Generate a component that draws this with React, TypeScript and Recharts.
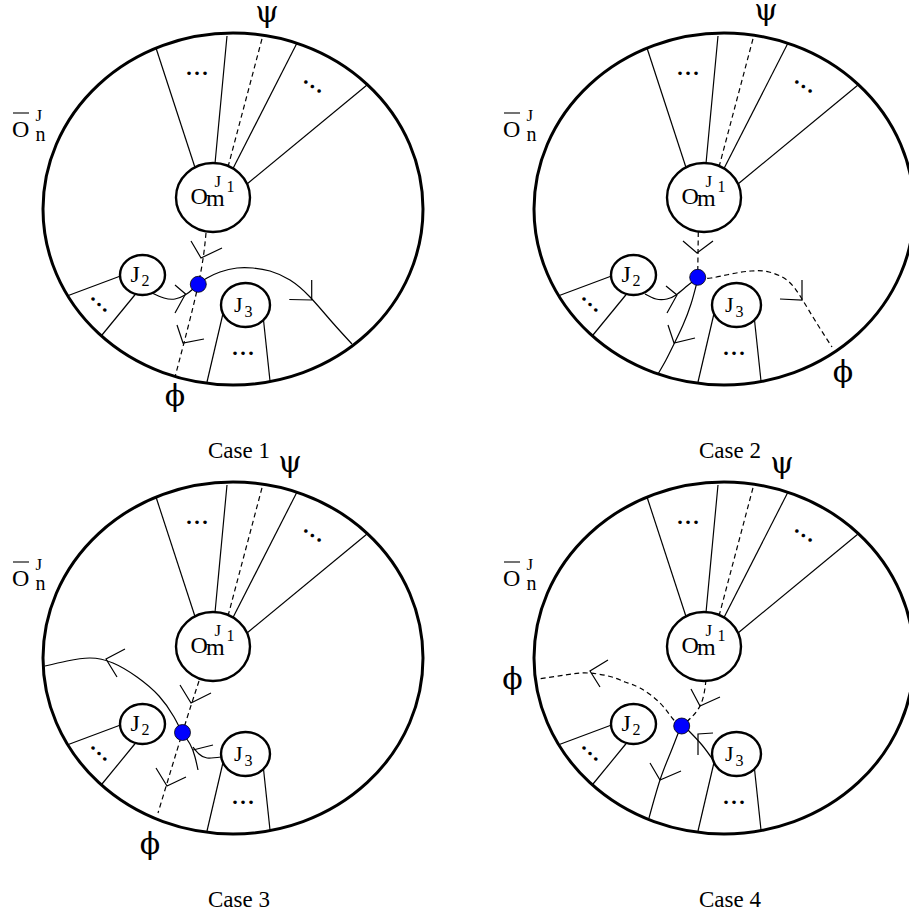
import {
  ComposedChart,
  Line,
  ReferenceArea,
  ReferenceDot,
  ReferenceLine,
  Scatter,
  XAxis,
  YAxis,
} from "recharts";

// every panel uses its own local units: 0..455 across, -20..466 down
const W = 455;
const H = 466;
const PAD = 20; // head room so the top labels are not clipped by the svg
const FONT = '"Liberation Serif", "DejaVu Serif", serif';
const GREEK_FONT = '"DejaVu Serif", "Liberation Serif", serif';

type Pt = { x: number; y: number };
type Box = { x1: number; x2: number; y1: number; y2: number };

// ---- geometry shared by all four cases ----
const outerRing: Box = { x1: 43, x2: 423, y1: 33, y2: 385 };

const nodes: Box[] = [
  { x1: 176, x2: 250, y1: 163, y2: 232 }, // O_m^{J1}
  { x1: 120, x2: 165, y1: 255, y2: 295 }, // J2
  { x1: 221, x2: 270, y1: 283, y2: 327 }, // J3
];

const spokes: [Pt, Pt][] = [
  [{ x: 195, y: 167.5 }, { x: 156, y: 48 }],
  [{ x: 215, y: 163.5 }, { x: 227, y: 36 }],
  [{ x: 233, y: 168.5 }, { x: 297, y: 43 }],
  [{ x: 247, y: 184 }, { x: 367, y: 85 }],
  [{ x: 120.5, y: 276 }, { x: 67, y: 296 }],
  [{ x: 136, y: 293.5 }, { x: 102, y: 335 }],
  [{ x: 223, y: 313.5 }, { x: 207, y: 382 }],
  [{ x: 263.5, y: 320 }, { x: 270, y: 381 }],
];

const psiLine: [Pt, Pt] = [{ x: 228, y: 167 }, { x: 263, y: 35 }];
const overbar: [Pt, Pt] = [{ x: 13, y: 113 }, { x: 29, y: 113 }];

const ellipsisMarks = [
  { x: 197, y: 73.5, angle: 0 },
  { x: 312.5, y: 86.5, angle: 34 },
  { x: 99, y: 304.5, angle: 43 },
  { x: 243, y: 353, angle: 0 },
];

// node names; the anchor is where the base letter starts on its baseline
const nodeNames = [
  { x: 12, y: 136.5, name: "outer" },
  { x: 190.5, y: 203.5, name: "J1" },
  { x: 130.5, y: 281.5, name: "J2" },
  { x: 234, y: 311.5, name: "J3" },
];

const titleSpot: Pt = { x: 239, y: 458 };

// ---- case 1 ----
const case1Solid: Pt[][] = [
  [
    { x: 152, y: 293 }, { x: 164, y: 298 }, { x: 175, y: 299 }, { x: 185, y: 295 },
    { x: 193, y: 289 }, { x: 198, y: 284 }, { x: 207, y: 278 }, { x: 220, y: 272 },
    { x: 237, y: 268 }, { x: 253, y: 268 }, { x: 270, y: 271 }, { x: 290, y: 280 },
    { x: 310, y: 297 }, { x: 332, y: 322 }, { x: 352, y: 344 },
  ],
];
const case1Dashed: Pt[][] = [
  [{ x: 206, y: 233 }, { x: 198.3, y: 284.3 }, { x: 175, y: 377 }],
];
const case1Arrows: Pt[][] = [
  [{ x: 191, y: 241 }, { x: 201, y: 258 }, { x: 222, y: 248 }],
  [{ x: 177, y: 325 }, { x: 183, y: 343 }, { x: 204, y: 339 }],
  [{ x: 175, y: 285 }, { x: 185.5, y: 294 }, { x: 175, y: 313 }],
  [{ x: 311.7, y: 280 }, { x: 311.7, y: 300 }, { x: 289.3, y: 299.5 }],
];

// ---- case 2 ----
const case2Solid: Pt[][] = [
  [
    { x: 154, y: 294 }, { x: 165, y: 299 }, { x: 176, y: 299 }, { x: 185, y: 295 },
    { x: 196, y: 286 }, { x: 204, y: 280 },
  ],
  [
    { x: 206, y: 282 }, { x: 200, y: 304 }, { x: 192, y: 325 }, { x: 183, y: 344 },
    { x: 175, y: 360 }, { x: 167, y: 374 },
  ],
];
const case2Dashed: Pt[][] = [
  [{ x: 207.3, y: 232 }, { x: 206.7, y: 277 }],
  [
    { x: 208, y: 278 }, { x: 220, y: 278 }, { x: 240, y: 274 }, { x: 260, y: 271 },
    { x: 278, y: 272 }, { x: 297, y: 281 }, { x: 311, y: 299 }, { x: 325, y: 322 },
    { x: 341, y: 347 },
  ],
];
const case2Arrows: Pt[][] = [
  [{ x: 192, y: 241 }, { x: 206, y: 253 }, { x: 222, y: 241 }],
  [{ x: 175, y: 286 }, { x: 186, y: 295 }, { x: 176, y: 313 }],
  [{ x: 177, y: 325 }, { x: 183, y: 343 }, { x: 204, y: 338 }],
  [{ x: 311, y: 280 }, { x: 311, y: 300 }, { x: 289, y: 299 }],
];

// ---- case 3 ----
const case3Solid: Pt[][] = [
  [
    { x: 45, y: 217 }, { x: 67, y: 212 }, { x: 90, y: 209 }, { x: 113, y: 214 },
    { x: 137, y: 228 }, { x: 159, y: 247 }, { x: 174, y: 268 }, { x: 182, y: 283 },
    { x: 190, y: 295 }, { x: 195, y: 308 }, { x: 198, y: 321 },
  ],
  [{ x: 221, y: 308 }, { x: 207, y: 309 }, { x: 199, y: 305 }, { x: 193, y: 298 }],
];
const case3Dashed: Pt[][] = [
  [{ x: 199, y: 232 }, { x: 182.5, y: 283.5 }, { x: 158, y: 364 }],
];
const case3Arrows: Pt[][] = [
  [{ x: 180, y: 236 }, { x: 191, y: 254 }, { x: 211, y: 244 }],
  [{ x: 156, y: 319 }, { x: 167, y: 337 }, { x: 186, y: 328 }],
  [{ x: 125, y: 200 }, { x: 106, y: 210 }, { x: 117, y: 228 }],
  [{ x: 213, y: 296 }, { x: 193, y: 301 }],
];

// ---- case 4 ----
const case4Solid: Pt[][] = [
  [{ x: 188, y: 282 }, { x: 179, y: 305 }, { x: 169, y: 331 }, { x: 158, y: 369 }],
  [{ x: 197, y: 281 }, { x: 211, y: 296 }, { x: 222, y: 311 }],
];
const case4Dashed: Pt[][] = [
  [{ x: 215, y: 231 }, { x: 209, y: 257 }, { x: 192, y: 276 }],
  [
    { x: 190, y: 276 }, { x: 182, y: 270 }, { x: 169, y: 254 }, { x: 149, y: 239 },
    { x: 134, y: 233 }, { x: 121, y: 228 }, { x: 97, y: 224 }, { x: 74, y: 226 },
    { x: 47, y: 230 },
  ],
];
const case4Arrows: Pt[][] = [
  [{ x: 200, y: 240 }, { x: 209, y: 257 }, { x: 229, y: 248 }],
  [{ x: 117, y: 211 }, { x: 99, y: 222 }, { x: 109, y: 238 }],
  [{ x: 159, y: 314 }, { x: 169, y: 331 }, { x: 190, y: 322 }],
  [{ x: 207, y: 306 }, { x: 207, y: 285 }, { x: 222, y: 284 }],
];

const cases = [
  {
    title: "Case 1",
    vertex: { x: 198.3, y: 284.3 },
    psi: { x: 267, y: 22 },
    phi: { x: 175, y: 406 },
    solid: case1Solid,
    dashed: case1Dashed,
    arrows: case1Arrows,
  },
  {
    title: "Case 2",
    vertex: { x: 206.7, y: 277.3 },
    psi: { x: 275, y: 20 },
    phi: { x: 352, y: 382 },
    solid: case2Solid,
    dashed: case2Dashed,
    arrows: case2Arrows,
  },
  {
    title: "Case 3",
    vertex: { x: 182.5, y: 283.5 },
    psi: { x: 290, y: 23 },
    phi: { x: 150, y: 405 },
    solid: case3Solid,
    dashed: case3Dashed,
    arrows: case3Arrows,
  },
  {
    title: "Case 4",
    vertex: { x: 190.7, y: 277 },
    psi: { x: 291, y: 24 },
    phi: { x: 21.5, y: 240 },
    solid: case4Solid,
    dashed: case4Dashed,
    arrows: case4Arrows,
  },
];

// where each panel's local origin sits on the page
const panelPos = [
  { left: 0, top: 0 },
  { left: 491, top: 0 },
  { left: 0, top: 449 },
  { left: 491, top: 449 },
];

// typesetting of each node name: pieces with offsets from the anchor
const nameLayout: Record<string, { t: string; dx: number; dy: number; size: number }[]> = {
  outer: [
    { t: "O", dx: 0, dy: 0, size: 24 },
    { t: "J", dx: 23.5, dy: -15.5, size: 17 },
    { t: "n", dx: 23.5, dy: 4, size: 20 },
  ],
  J1: [
    { t: "O", dx: 0, dy: 0, size: 24 },
    { t: "m", dx: 15.5, dy: 2, size: 24 },
    { t: "J", dx: 24, dy: -16.5, size: 17 },
    { t: "1", dx: 36, dy: -11.5, size: 16 },
  ],
  J2: [
    { t: "J", dx: 0, dy: 0, size: 24 },
    { t: "2", dx: 11, dy: 4, size: 16 },
  ],
  J3: [
    { t: "J", dx: 0, dy: 0, size: 22 },
    { t: "3", dx: 10.5, dy: 5, size: 16 },
  ],
};

function RingShape(props: any) {
  const { x, y, width, height, strokeWidth } = props;
  return (
    <ellipse
      cx={x + width / 2}
      cy={y + height / 2}
      rx={width / 2}
      ry={height / 2}
      fill="none"
      stroke="#000"
      strokeWidth={strokeWidth}
    />
  );
}

function NameShape(props: any) {
  const { cx, cy, payload } = props;
  return (
    <text fontFamily={FONT} fill="#000">
      {nameLayout[payload.name].map((p, i) => (
        <tspan key={i} x={cx + p.dx} y={cy + p.dy} fontSize={p.size}>
          {p.t}
        </tspan>
      ))}
    </text>
  );
}

function TextShape(props: any) {
  const { cx, cy, payload } = props;
  const greek = payload.kind === "greek";
  return (
    <text
      x={cx}
      y={cy}
      fontFamily={greek ? GREEK_FONT : FONT}
      fontSize={greek ? 30 : 23}
      textAnchor="middle"
      fill="#000"
    >
      {payload.text}
    </text>
  );
}

function EllipsisShape(props: any) {
  const { cx, cy, payload } = props;
  return (
    <text
      x={cx + 1.2}
      y={cy + 1.5}
      fontFamily={FONT}
      fontSize={22}
      fontWeight="bold"
      letterSpacing={2.5}
      textAnchor="middle"
      fill="#000"
      transform={payload.angle ? `rotate(${payload.angle} ${cx} ${cy})` : undefined}
    >
      ...
    </text>
  );
}

function Panel({ c }: { c: (typeof cases)[number] }) {
  const texts = [
    { ...c.psi, text: "ψ", kind: "greek" },
    { ...c.phi, text: "ϕ", kind: "greek" },
    { ...titleSpot, text: c.title, kind: "title" },
  ];
  return (
    <ComposedChart width={W} height={H + PAD} margin={{ top: 0, right: 0, bottom: 0, left: 0 }}>
      <XAxis type="number" dataKey="x" domain={[0, W]} hide allowDataOverflow />
      <YAxis type="number" dataKey="y" domain={[-PAD, H]} reversed hide allowDataOverflow />

      <ReferenceArea {...outerRing} shape={RingShape} strokeWidth={3} ifOverflow="visible" />
      {nodes.map((n, i) => (
        <ReferenceArea key={`n${i}`} {...n} shape={RingShape} strokeWidth={2.4} ifOverflow="visible" />
      ))}
      {spokes.map((s, i) => (
        <ReferenceLine key={`s${i}`} segment={s} stroke="#000" strokeWidth={1.2} ifOverflow="visible" />
      ))}
      <ReferenceLine segment={psiLine} stroke="#000" strokeWidth={1.2} strokeDasharray="5 3.5" ifOverflow="visible" />
      <ReferenceLine segment={overbar} stroke="#000" strokeWidth={1.1} ifOverflow="visible" />

      {c.solid.map((pts, i) => (
        <Line
          key={`so${i}`}
          data={pts}
          dataKey="y"
          type="natural"
          stroke="#000"
          strokeWidth={1.2}
          dot={false}
          activeDot={false}
          isAnimationActive={false}
        />
      ))}
      {c.dashed.map((pts, i) => (
        <Line
          key={`da${i}`}
          data={pts}
          dataKey="y"
          type="natural"
          stroke="#000"
          strokeWidth={1.2}
          strokeDasharray="5 3.5"
          dot={false}
          activeDot={false}
          isAnimationActive={false}
        />
      ))}
      {c.arrows.map((pts, i) => (
        <Line
          key={`ar${i}`}
          data={pts}
          dataKey="y"
          type="linear"
          stroke="#000"
          strokeWidth={1.2}
          dot={false}
          activeDot={false}
          isAnimationActive={false}
        />
      ))}

      <ReferenceDot x={c.vertex.x} y={c.vertex.y} r={8} fill="#0000ff" stroke="#000" strokeWidth={0.8} ifOverflow="visible" />

      <Scatter data={nodeNames} shape={NameShape} isAnimationActive={false} />
      <Scatter data={texts} shape={TextShape} isAnimationActive={false} />
      <Scatter data={ellipsisMarks} shape={EllipsisShape} isAnimationActive={false} />
    </ComposedChart>
  );
}

export default function App() {
  return (
    <div
      style={{
        position: "absolute",
        left: 0,
        top: 0,
        width: 909,
        height: 915,
        overflow: "hidden",
        background: "#fff",
      }}
    >
      {cases.map((c, i) => (
        <div
          key={c.title}
          style={{ position: "absolute", left: panelPos[i].left, top: panelPos[i].top - PAD }}
        >
          <Panel c={c} />
        </div>
      ))}
    </div>
  );
}
